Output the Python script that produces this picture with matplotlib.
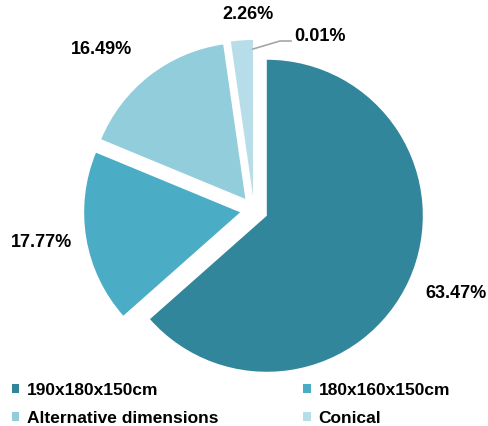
import numpy as np
import matplotlib.pyplot as plt

plt.rcParams['font.family'] = ['Liberation Sans', 'DejaVu Sans']

categories = ["190x180x150cm", "180x160x150cm", "Alternative dimensions", "Conical", ""]
shares = [63.47, 17.77, 16.49, 2.26, 0.01]
colors = ["#31869b", "#4bacc6", "#92cddc", "#b7dee8", "#b7dee8"]
explode = [0.09, 0.09, 0.09, 0.09, 0.09]

fig = plt.figure(figsize=(4.88, 4.27), dpi=100)
ax = fig.add_axes([0, 0, 1, 1])

# pie radius and centre in pixels
r_px = 156.0
cx, cy = 254.0, 427 - 211.0

# label anchor spots in pixels (from top-left), turned into pie units below
label_px = [(456, 293), (41, 243), (101, 50), (248, 15), (320, 37)]

wedges, texts = ax.pie(shares, colors=colors, explode=explode, startangle=90,
                       counterclock=False, radius=1.0,
                       labels=[f"{v:.2f}%" for v in shares], labeldistance=1.3,
                       wedgeprops=dict(linewidth=0),
                       textprops=dict(fontsize=13, fontweight='bold', color='black'))
ax.set_xlim(-cx / r_px, (488 - cx) / r_px)
ax.set_ylim(-cy / r_px, (427 - cy) / r_px)
ax.set_aspect('equal', adjustable='datalim')
ax.axis('off')

for t, (px, py) in zip(texts, label_px):
    t.set_position(((px - cx) / r_px, ((427 - py) - cy) / r_px))
    t.set_ha('center')
    t.set_va('center')

# leader line for the tiny slice
line_px = [(253, 50), (280, 42), (291, 42)]
ax.plot([(p[0] - cx) / r_px for p in line_px],
        [((427 - p[1]) - cy) / r_px for p in line_px], color='#a6a6a6', lw=1.2)

order = [0, 2, 1, 3]
leg = fig.legend([wedges[i] for i in order], [categories[i] for i in order],
                 loc='lower left', ncol=2,
                 bbox_to_anchor=(-0.008, -0.035), frameon=False,
                 prop=dict(size=12.5, weight='bold'), handlelength=0.42, handleheight=0.42,
                 columnspacing=4.9, handletextpad=0.45, labelspacing=0.75)

fig.savefig("out.png", dpi=100)
